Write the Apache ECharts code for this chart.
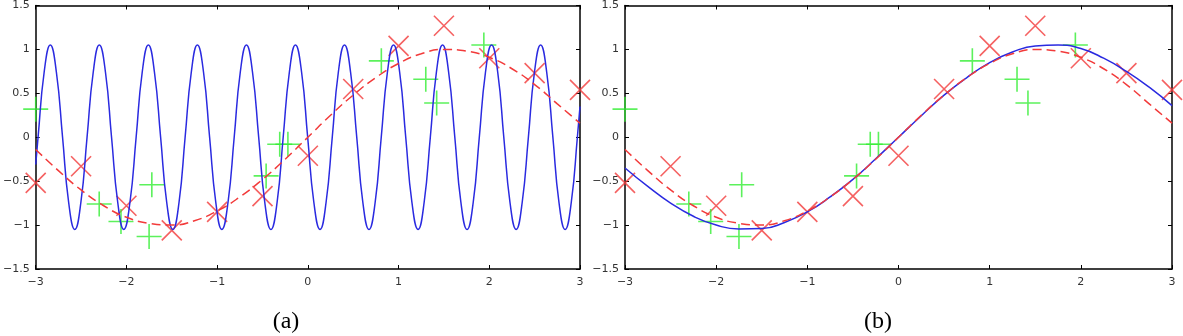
<!DOCTYPE html>
<html>
<head>
<meta charset="utf-8">
<script src="https://cdn.jsdelivr.net/npm/echarts@6/dist/echarts.min.js"></script>
<style>
html,body{margin:0;padding:0;background:#fff;}
#chart{width:1183px;height:336px;}
</style>
</head>
<body>
<div id="chart"></div>
<script>
// ---- data ----
const xTickLabels = ['−3','−2','−1','0','1','2','3'];
const yTickLabels = ['−1.5','−1','−0.5','0','0.5','1','1.5'];
const captions = ['(a)', '(b)'];

// red crosses (same in both panels)
const redX = [-3, -2.5, -2, -1.5, -1, -0.5, 0, 0.5, 1, 1.5, 2, 2.5, 3];
const redY = [-0.52, -0.33, -0.78, -1.06, -0.85, -0.67, -0.21, 0.55, 1.04, 1.27, 0.90, 0.73, 0.54];

// green plus markers (same in both panels)
const greenX = [-3.0, -2.30, -2.06, -1.75, -1.72, -0.46, -0.31, -0.22, 0.81, 1.30, 1.42, 1.94];
const greenY = [0.32, -0.76, -0.96, -1.13, -0.54, -0.44, -0.08, -0.08, 0.87, 0.66, 0.39, 1.05];

// red dashed curve (same in both panels)
const dashX = [-3, -2.75, -2.5, -2.25, -2, -1.75, -1.5, -1.25, -1, -0.75, -0.5, -0.25, 0, 0.25, 0.5, 0.75, 1, 1.25, 1.5, 1.75, 2, 2.25, 2.5, 2.75, 3];
const dashY = [-0.14, -0.38, -0.60, -0.78, -0.91, -0.98, -1.00, -0.95, -0.84, -0.68, -0.48, -0.25, 0, 0.25, 0.48, 0.68, 0.84, 0.95, 1.00, 0.98, 0.91, 0.78, 0.60, 0.38, 0.16];

// blue curve, panel (b)
const blueBX = [-3, -2.75, -2.5, -2.25, -2, -1.75, -1.5, -1.25, -1, -0.75, -0.5, -0.25, 0, 0.25, 0.5, 0.75, 1, 1.25, 1.5, 1.75, 2, 2.25, 2.5, 2.75, 3];
const blueBY = [-0.35, -0.56, -0.75, -0.90, -1.00, -1.045, -1.04, -0.97, -0.85, -0.68, -0.48, -0.245, 0, 0.245, 0.48, 0.68, 0.85, 0.97, 1.04, 1.05, 1.01, 0.90, 0.75, 0.57, 0.36];

// blue oscillating curve, panel (a)
const blueAX = [-3, -2.974, -2.907, -2.839, -2.772, -2.704, -2.637, -2.569, -2.502, -2.434, -2.366, -2.299, -2.231, -2.164, -2.096, -2.029, -1.961, -1.893, -1.826, -1.758, -1.691, -1.623, -1.556, -1.488, -1.420, -1.353, -1.285, -1.218, -1.150, -1.083, -1.015, -0.948, -0.880, -0.812, -0.745, -0.677, -0.610, -0.542, -0.475, -0.407, -0.339, -0.272, -0.204, -0.137, -0.069, -0.002, 0.066, 0.134, 0.201, 0.269, 0.336, 0.404, 0.471, 0.539, 0.606, 0.674, 0.742, 0.809, 0.877, 0.944, 1.012, 1.079, 1.147, 1.215, 1.282, 1.350, 1.417, 1.485, 1.552, 1.620, 1.687, 1.755, 1.823, 1.890, 1.958, 2.025, 2.093, 2.160, 2.228, 2.296, 2.363, 2.431, 2.498, 2.566, 2.633, 2.701, 2.768, 2.836, 2.904, 2.971, 3];
const blueAY = [-0.31,
  0, 0.74, 1.05, 0.74, 0, -0.74, -1.05, -0.74,
  0, 0.74, 1.05, 0.74, 0, -0.74, -1.05, -0.74,
  0, 0.74, 1.05, 0.74, 0, -0.74, -1.05, -0.74,
  0, 0.74, 1.05, 0.74, 0, -0.74, -1.05, -0.74,
  0, 0.74, 1.05, 0.74, 0, -0.74, -1.05, -0.74,
  0, 0.74, 1.05, 0.74, 0, -0.74, -1.05, -0.74,
  0, 0.74, 1.05, 0.74, 0, -0.74, -1.05, -0.74,
  0, 0.74, 1.05, 0.74, 0, -0.74, -1.05, -0.74,
  0, 0.74, 1.05, 0.74, 0, -0.74, -1.05, -0.74,
  0, 0.74, 1.05, 0.74, 0, -0.74, -1.05, -0.74,
  0, 0.74, 1.05, 0.74, 0, -0.74, -1.05, -0.74,
  0, 0.35];

// ---- build chart ----
const zip = (a, b) => a.map((v, i) => [v, b[i]]);
const RED = '#f23a3a', GREEN = '#33ee33', BLUE = '#2a2ae0';
const labelFont = {color: '#333', fontSize: 11, fontFamily: 'DejaVu Sans'};

const grids = [
  {left: 33, right: 603, top: 4, bottom: 67},
  {left: 625, right: 11, top: 4, bottom: 67}
];

const xAxes = [], yAxes = [];
grids.forEach((g, gi) => {
  ['bottom', 'top'].forEach(pos => {
    xAxes.push({
      type: 'value', gridIndex: gi, position: pos, min: -3, max: 3, interval: 1,
      axisLine: {show: true, onZero: false, lineStyle: {color: '#000', width: 1.5}},
      axisTick: {show: true, inside: true, length: 4, lineStyle: {color: '#000', width: 1}},
      splitLine: {show: false},
      axisLabel: Object.assign({show: pos === 'bottom', margin: 8,
        formatter: (v, i) => xTickLabels[i]}, labelFont)
    });
  });
  ['left', 'right'].forEach(pos => {
    yAxes.push({
      type: 'value', gridIndex: gi, position: pos, min: -1.5, max: 1.5, interval: 0.5,
      axisLine: {show: true, onZero: false, lineStyle: {color: '#000', width: 1.5}},
      axisTick: {show: true, inside: true, length: 4, lineStyle: {color: '#000', width: 1}},
      splitLine: {show: false},
      axisLabel: Object.assign({show: pos === 'left', margin: 6,
        formatter: (v, i) => yTickLabels[i]}, labelFont)
    });
  });
});

const crossPath = 'path://M0,0L10,10M10,0L0,10';
const plusPath = 'path://M5,0L5,10M0,5L10,5';

const series = [];
[0, 1].forEach(gi => {
  const xi = gi * 2, yi = gi * 2;
  series.push({
    type: 'scatter', xAxisIndex: xi, yAxisIndex: yi, clip: false,
    symbol: crossPath, symbolSize: 20,
    itemStyle: {color: 'rgba(0,0,0,0)', borderColor: RED, borderWidth: 1.6},
    data: zip(redX, redY), z: 2
  });
  series.push({
    type: 'scatter', xAxisIndex: xi, yAxisIndex: yi, clip: false,
    symbol: plusPath, symbolSize: 25,
    itemStyle: {color: 'rgba(0,0,0,0)', borderColor: GREEN, borderWidth: 1.6},
    data: zip(greenX, greenY), z: 2
  });
  series.push({
    type: 'line', xAxisIndex: xi, yAxisIndex: yi, showSymbol: false, smooth: true,
    lineStyle: {color: BLUE, width: 1.5},
    data: gi === 0 ? zip(blueAX, blueAY) : zip(blueBX, blueBY), z: 3
  });
  series.push({
    type: 'line', xAxisIndex: xi, yAxisIndex: yi, showSymbol: false, smooth: true,
    lineStyle: {color: RED, width: 1.5, type: [9, 5]},
    data: zip(dashX, dashY), z: 4
  });
});

const chart = echarts.init(document.getElementById('chart'), null, {renderer: 'canvas'});
chart.setOption({
  animation: false,
  backgroundColor: '#fff',
  grid: grids,
  xAxis: xAxes,
  yAxis: yAxes,
  series: series,
  graphic: [
    {type: 'text', x: 286, y: 322, style: {text: captions[0], fill: '#000', font: '24px "Liberation Serif"', textAlign: 'center', textVerticalAlign: 'middle'}},
    {type: 'text', x: 878, y: 322, style: {text: captions[1], fill: '#000', font: '24px "Liberation Serif"', textAlign: 'center', textVerticalAlign: 'middle'}}
  ]
});
</script>
</body>
</html>
